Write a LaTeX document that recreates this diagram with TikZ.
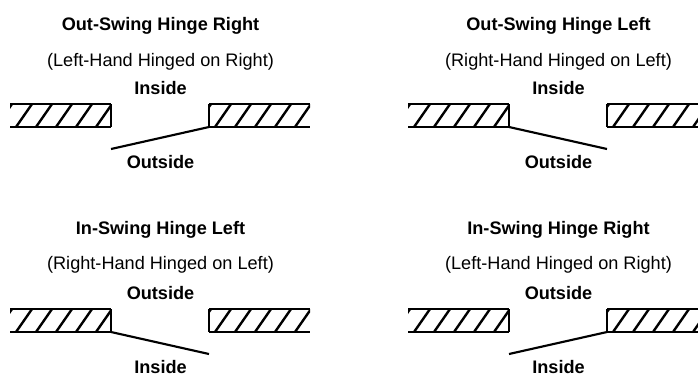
\documentclass[tikz,border=0pt]{standalone}
\usepackage{fontspec}
\setmainfont{Liberation Sans}
\tikzset{
  title/.style={font=\fontsize{13.6}{15}\selectfont\bfseries,inner sep=0pt,anchor=base},
  subtitle/.style={font=\fontsize{13.6}{15}\selectfont,inner sep=0pt,anchor=base},
  side/.style={font=\fontsize{13.6}{15}\selectfont\bfseries,inner sep=0pt,anchor=base},
  wall/.style={line width=1.2pt,black},
  hatch/.style={line width=1.8pt,black},
  door/.style={line width=1.6pt,black}
}
\newcommand{\wallpiece}[4]{%
  \begin{scope}
    \clip (#1,#2) rectangle (#3,#2+23);
    \foreach \i in {-1,...,5}
      \draw[hatch] (#1+6+20*\i,#2+23) -- ++(16,-23);
  \end{scope}
  \draw[wall] (#1,#2) -- (#3,#2) (#1,#2+23) -- (#3,#2+23) (#4,#2) -- (#4,#2+23);
}
% #1 id, #2 x, #3 wall top y, #4 title, #5 subtitle, #6 upper word, #7 lower word, #8 hinge x offset
\newcommand{\panel}[8]{%
  \node[title] (#1t) at (#2+150.5,#3+\titley) {#4};
  \node[subtitle] (#1s) at (#2+150.5,#3+\suby) {#5};
  \node[side] (#1a) at (#2+150.5,#3-10) {#6};
  \node[side] (#1b) at (#2+150.5,#3+64) {#7};
  \wallpiece{#2}{#3}{#2+101}{#2+101}
  \wallpiece{#2+199}{#3}{#2+300}{#2+199}
  \coordinate (#1h) at (#2+#8,#3+23);
  \coordinate (#1e) at (#2+300-#8,#3+45);
  \draw[door] (#1h) -- (#1e);
}
\begin{document}
\begin{tikzpicture}[x=0.75pt,y=-0.75pt]
\useasboundingbox (0,0) rectangle (698,376);
\clip (0,0) rectangle (698,376);
\def\titley{-73.5}\def\suby{-37.5}
\panel{p}{10}{104}{Out-Swing Hinge Right}{(Left-Hand Hinged on Right)}{Inside}{Outside}{199}
\panel{q}{408}{104}{Out-Swing Hinge Left}{(Right-Hand Hinged on Left)}{Inside}{Outside}{101}
\def\titley{-74.5}\def\suby{-40}
\panel{r}{10}{309}{In-Swing Hinge Left}{(Right-Hand Hinged on Left)}{Outside}{Inside}{101}
\panel{s}{408}{309}{In-Swing Hinge Right}{(Left-Hand Hinged on Right)}{Outside}{Inside}{199}
\end{tikzpicture}
\end{document}
